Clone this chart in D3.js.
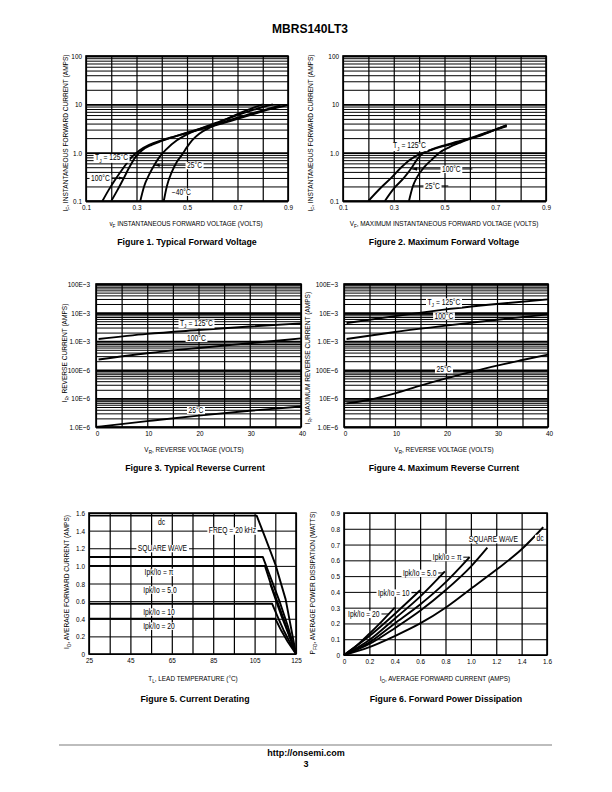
<!DOCTYPE html>
<html>
<head>
<meta charset="utf-8">
<script src="https://cdn.jsdelivr.net/npm/d3@7/dist/d3.min.js"></script>
<style>html,body{margin:0;padding:0;background:#fff}svg{display:block}</style>
</head>
<body>
<svg id="page" width="612" height="792" xmlns="http://www.w3.org/2000/svg"></svg>
<script>
// ================= DATA =================
// Figure 1 – typical forward voltage  [V, A]
const fig1_125C = [[0.165,0.1],[0.19,0.17],[0.22,0.3],[0.25,0.5],[0.28,0.8],[0.31,1.1],[0.35,1.45],[0.4,1.8],[0.45,2.15],[0.5,2.55],[0.55,3.0],[0.6,3.5],[0.65,4.2],[0.7,5.0],[0.75,6.0],[0.8,7.2],[0.85,8.4],[0.9,9.7]];
const fig1_100C = [[0.2,0.1],[0.225,0.17],[0.25,0.3],[0.27,0.48],[0.295,0.8],[0.32,1.1],[0.36,1.45],[0.4,1.75],[0.45,2.15],[0.5,2.6],[0.55,3.1],[0.6,3.7],[0.65,4.4],[0.7,5.3],[0.75,6.3],[0.8,7.5],[0.87,9.5]];
const fig1_25C  = [[0.315,0.1],[0.33,0.2],[0.35,0.35],[0.37,0.55],[0.39,0.8],[0.42,1.2],[0.46,1.8],[0.5,2.4],[0.55,3.1],[0.6,3.9],[0.65,4.8],[0.7,6.0],[0.75,7.3],[0.8,8.8],[0.84,10]];
const fig1_m40C = [[0.408,0.1],[0.42,0.2],[0.44,0.4],[0.46,0.65],[0.48,0.9],[0.5,1.3],[0.52,1.8],[0.55,2.5],[0.6,3.5],[0.65,4.8],[0.7,6.3],[0.75,8.0],[0.8,10]];
// Figure 2 – maximum forward voltage  [V, A]
const fig2_125C = [[0.2,0.1],[0.25,0.19],[0.29,0.3],[0.33,0.5],[0.37,0.75],[0.4,0.92],[0.45,1.15],[0.5,1.38],[0.55,1.62],[0.6,1.95],[0.65,2.4],[0.7,3.0],[0.745,3.7]];
const fig2_100C = [[0.265,0.1],[0.3,0.18],[0.34,0.3],[0.37,0.48],[0.39,0.7],[0.41,0.92],[0.45,1.17],[0.5,1.42],[0.55,1.68],[0.6,2.0],[0.65,2.45],[0.7,3.0],[0.745,3.65]];
const fig2_25C  = [[0.36,0.1],[0.375,0.2],[0.39,0.3],[0.42,0.5],[0.45,0.72],[0.48,1.0],[0.52,1.3],[0.56,1.6],[0.6,1.92],[0.65,2.35],[0.7,2.95],[0.745,3.5]];
// Figure 3 – typical reverse current  [V, A]
const fig3_125C = [[0.5,1.2e-3],[10,1.8e-3],[20,2.45e-3],[30,3.25e-3],[40,4.2e-3]];
const fig3_100C = [[0.5,2.3e-4],[10,3.8e-4],[20,5.8e-4],[30,8.5e-4],[40,1.25e-3]];
const fig3_25C  = [[0,1.0e-6],[10,1.6e-6],[20,2.5e-6],[30,3.7e-6],[40,5.2e-6]];
// Figure 4 – maximum reverse current  [V, A]
const fig4_125C = [[0.5,4.3e-3],[10,7.5e-3],[20,1.3e-2],[30,2.0e-2],[40,2.9e-2]];
const fig4_100C = [[0.5,1.2e-3],[10,2.1e-3],[20,3.5e-3],[30,5.6e-3],[40,8.7e-3]];
const fig4_25C  = [[0.5,6.7e-6],[5,9e-6],[10,1.5e-5],[15,2.8e-5],[20,5e-5],[25,8.5e-5],[30,1.4e-4],[35,2.2e-4],[40,3.4e-4]];
// Figure 5 – current derating  [°C, A]
const fig5_dc     = [[25,1.57],[106,1.57],[110,1.33],[115,1.02],[120,0.62],[125,0]];
const fig5_square = [[25,1.1],[109,1.1],[113,0.85],[117,0.6],[121,0.32],[125,0]];
const fig5_pi     = [[25,1.0],[110,1.0],[113,0.78],[116.5,0.56],[120.5,0.3],[125,0]];
const fig5_5      = [[112.5,0.8],[115,0.63],[118,0.43],[121.5,0.22],[125,0]];
const fig5_10     = [[25,0.57],[113.5,0.57],[116,0.43],[119,0.27],[125,0]];
const fig5_20     = [[25,0.4],[115,0.4],[118,0.26],[121,0.14],[125,0]];
// Figure 6 – forward power dissipation  [A, W]
const fig6_dc     = [[0,0],[0.2,0.05],[0.4,0.12],[0.6,0.2],[0.8,0.3],[1.0,0.42],[1.2,0.54],[1.4,0.67],[1.57,0.81]];
const fig6_square = [[0,0],[0.2,0.07],[0.4,0.17],[0.6,0.28],[0.8,0.41],[1.0,0.56],[1.13,0.68]];
const fig6_pi     = [[0,0],[0.2,0.08],[0.4,0.2],[0.6,0.32],[0.8,0.46],[0.99,0.62]];
const fig6_5      = [[0,0],[0.2,0.095],[0.4,0.23],[0.6,0.37],[0.795,0.53]];
const fig6_10     = [[0,0],[0.2,0.12],[0.4,0.26],[0.6,0.41]];
const fig6_20     = [[0,0],[0.1,0.06],[0.2,0.135],[0.3,0.215],[0.4,0.3]];

// Tick values / labels
const vfXTicks = [0.1,0.3,0.5,0.7,0.9];
const vfXLabels = ["0.1","0.3","0.5","0.7","0.9"];
const vfXGrid = [0.1,0.2,0.3,0.4,0.5,0.6,0.7,0.8,0.9];
const ifYTicks = [0.1,1,10,100];
const ifYLabels = ["0.1","1.0","10","100"];
const vrXTicks = [0,10,20,30,40];
const vrXLabels = ["0","10","20","30","40"];
const vrXGrid = [0,5,10,15,20,25,30,35,40];
const irYTicks = [1e-6,1e-5,1e-4,1e-3,1e-2,1e-1];
const irYLabels = ["1.0E\u22126","10E\u22126","100E\u22126","1.0E\u22123","10E\u22123","100E\u22123"];
const tlXTicks = [25,45,65,85,105,125];
const tlXLabels = ["25","45","65","85","105","125"];
const tlXGrid = [25,35,45,55,65,75,85,95,105,115,125];
const ioYTicks = [0,0.2,0.4,0.6,0.8,1.0,1.2,1.4,1.6];
const ioYLabels = ["0","0.2","0.4","0.6","0.8","1.0","1.2","1.4","1.6"];
const ioXTicks = [0,0.2,0.4,0.6,0.8,1.0,1.2,1.4,1.6];
const ioXLabels = ["0","0.2","0.4","0.6","0.8","1.0","1.2","1.4","1.6"];
const pfYTicks = [0,0.1,0.2,0.3,0.4,0.5,0.6,0.7,0.8,0.9];
const pfYLabels = ["0","0.1","0.2","0.3","0.4","0.5","0.6","0.7","0.8","0.9"];

// ================= DRAW =================
const svg = d3.select('#page');
svg.append('rect').attr('width',612).attr('height',792).attr('fill','#fff');
const BFONT = "'Liberation Sans',Arial,Helvetica,sans-serif";
let narrowOK = false;
(function(){
  const a = svg.append('text').attr('font-family',"'Liberation Sans Narrow',monospace").attr('font-size',40).text('INSTANTANEOUS FORWARD');
  const b = svg.append('text').attr('font-family',"'Liberation Sans',monospace").attr('font-size',40).text('INSTANTANEOUS FORWARD');
  narrowOK = a.node().getComputedTextLength() < 0.9*b.node().getComputedTextLength();
  a.remove(); b.remove();
})();
const NFONT = narrowOK ? "'Liberation Sans Narrow','Arial Narrow',sans-serif" : BFONT;
function cond(t){
  if(!narrowOK){ const w=t.node().getComputedTextLength(); if(w>0) t.attr('textLength',w*0.82).attr('lengthAdjust','spacingAndGlyphs'); }
}
const TICK = 7.8, AXL = 7.8, ANN = 8.2, CAP = 8.8;

const defs = svg.append('defs');
defs.append('marker').attr('id','arr').attr('viewBox','0 0 6 4').attr('refX',6).attr('refY',2)
  .attr('markerWidth',5).attr('markerHeight',3.4).attr('markerUnits','userSpaceOnUse').attr('orient','auto-start-reverse')
  .append('path').attr('d','M0,0L6,2L0,4Z').attr('fill','#000');

function addText(parent,o){
  const size=o.size||AXL, narrow=o.narrow!==false;
  const t=parent.append('text').attr('font-family',narrow?NFONT:BFONT).attr('font-size',size)
    .attr('text-anchor',o.anchor||'middle').attr('fill','#000');
  if(o.bold) t.attr('font-weight','bold');
  if(o.rotate!=null) t.attr('transform',`translate(${o.x},${o.y}) rotate(${o.rotate})`).attr('x',0).attr('y',0);
  else t.attr('x',o.x).attr('y',o.y);
  t.attr('dy','0.35em');
  let shifted=false;
  const parts=Array.isArray(o.parts)?o.parts:[o.parts];
  parts.forEach(p=>{
    if(typeof p==='string'){ const s=t.append('tspan').text(p); if(shifted){ s.attr('dy',-size*0.3); shifted=false; } }
    else { t.append('tspan').attr('font-size',size*0.72).attr('dy',size*0.3).text(p.sub); shifted=true; }
  });
  if(narrow) cond(t);
  return t;
}

function isDecade(d){ const l=Math.log10(d); return Math.abs(l-Math.round(l))<1e-6; }

function chart(c){
  const g=svg.append('g');
  const x=d3.scaleLinear().domain(c.xDomain).range([c.left,c.right]);
  const y=(c.yLog?d3.scaleLog():d3.scaleLinear()).domain(c.yDomain).range([c.bottom,c.top]);
  const W=c.right-c.left, H=c.bottom-c.top;
  // grid
  const gx=g.append('g').attr('transform',`translate(0,${c.bottom})`)
    .call(d3.axisBottom(x).tickValues(c.xGrid).tickSize(-H).tickSizeOuter(0).tickFormat(''));
  gx.select('.domain').remove();
  gx.selectAll('.tick line').attr('stroke','#000').attr('stroke-width',1.2);
  const yGrid=c.yLog?y.ticks():c.yGrid;
  const gy=g.append('g').attr('transform',`translate(${c.left},0)`)
    .call(d3.axisLeft(y).tickValues(yGrid).tickSize(-W).tickSizeOuter(0).tickFormat(''));
  gy.select('.domain').remove();
  gy.selectAll('.tick line').attr('stroke','#000').attr('stroke-width',d=>(c.yLog&&isDecade(d))?1.8:1.0);
  // frame
  g.append('rect').attr('x',c.left).attr('y',c.top).attr('width',W).attr('height',H)
    .attr('fill','none').attr('stroke','#000').attr('stroke-width',1.6);
  // tick labels
  const tx=g.append('g').attr('transform',`translate(${c.xShift||0},${c.bottom})`)
    .call(d3.axisBottom(x).tickValues(c.xTicks).tickSize(0).tickPadding(3).tickFormat((d,i)=>c.xLabels[i]));
  tx.select('.domain').remove();
  tx.attr('font-family',NFONT).attr('font-size',TICK);
  tx.selectAll('text').attr('fill','#000').each(function(){ cond(d3.select(this)); });
  const ty=g.append('g').attr('transform',`translate(${c.left},0)`)
    .call(d3.axisLeft(y).tickValues(c.yTicks).tickSize(0).tickPadding(c.yPad||4).tickFormat((d,i)=>c.yLabels[i]));
  ty.select('.domain').remove();
  ty.attr('font-family',NFONT).attr('font-size',TICK);
  ty.selectAll('text').attr('fill','#000').each(function(){ cond(d3.select(this)); });
  // series
  const line=d3.line().x(d=>x(d[0])).y(d=>y(d[1])).curve(c.curve||d3.curveMonotoneX);
  c.series.forEach(s=>{
    g.append('path').attr('d',line(s)).attr('fill','none').attr('stroke','#000').attr('stroke-width',1.9).attr('stroke-linejoin','round');
  });
  // annotations
  (c.ann||[]).forEach(a=>{
    const grp=g.append('g');
    const lines=grp.append('g');
    const bg=grp.append('rect').attr('fill','#fff');
    const t=addText(grp,{x:x(a.x),y:y(a.y),parts:a.parts,anchor:a.anchor||'middle',size:ANN});
    const bb=t.node().getBBox();
    if(a.bg!==false) bg.attr('x',bb.x-1.5).attr('y',bb.y+0.8).attr('width',bb.width+3).attr('height',Math.max(0,bb.height-1.6));
    else bg.remove();
    if(a.to){
      const x2=x(a.to[0]), y2=y(a.to[1]);
      let x1,y1;
      if(a.from){ x1=x(a.from[0]); y1=y(a.from[1]); }
      else { x1 = x2 > bb.x+bb.width/2 ? bb.x+bb.width+0.5 : bb.x-0.5; y1=y(a.y); }
      const ln=lines.append('line').attr('x1',x1).attr('y1',y1).attr('x2',x2).attr('y2',y2)
        .attr('stroke','#000').attr('stroke-width',1.0);
      if(a.arrow) ln.attr('marker-end','url(#arr)');
    }
  });
  // axis labels & caption
  addText(g,{x:c.yLab[0],y:c.yLab[1],parts:c.yTitle,rotate:-90,size:8});
  addText(g,{x:c.xLab[0],y:c.xLab[1],parts:c.xTitle,size:AXL});
  addText(g,{x:c.cap[0],y:c.cap[1],parts:c.caption,size:CAP,bold:true,narrow:false});
}

const TJ125 = ['T',{sub:'J'},' = 125\u00B0C'];

chart({left:86,right:288,top:56,bottom:201,xDomain:[0.1,0.9],yLog:true,yDomain:[0.1,100],
  xGrid:vfXGrid,xTicks:vfXTicks,xLabels:vfXLabels,yTicks:ifYTicks,yLabels:ifYLabels,
  series:[fig1_125C,fig1_100C,fig1_25C,fig1_m40C],
  ann:[
    {parts:TJ125,x:0.136,y:0.8,anchor:'start',to:[0.28,0.8]},
    {parts:['100\u00B0C'],x:0.12,y:0.3,anchor:'start',to:[0.249,0.3],arrow:true},
    {parts:['25\u00B0C'],x:0.5,y:0.55,anchor:'start',to:[0.372,0.55],arrow:true},
    {parts:['\u221240\u00B0C'],x:0.44,y:0.155,anchor:'start'}
  ],
  yTitle:['I',{sub:'F'},', INSTANTANEOUS FORWARD CURRENT (AMPS)'],yLab:[65,133],
  xTitle:['v',{sub:'F'},' INSTANTANEOUS FORWARD VOLTAGE (VOLTS)'],xLab:[186,223],
  caption:'Figure 1. Typical Forward Voltage',cap:[187,242]});

chart({left:343,right:546,top:56,bottom:201,xDomain:[0.1,0.9],yLog:true,yDomain:[0.1,100],
  xGrid:vfXGrid,xTicks:vfXTicks,xLabels:vfXLabels,yTicks:ifYTicks,yLabels:ifYLabels,
  series:[fig2_125C,fig2_100C,fig2_25C],
  ann:[
    {parts:TJ125,x:0.297,y:1.4,anchor:'start'},
    {parts:['100\u00B0C'],x:0.49,y:0.46,anchor:'start',from:[0.61,0.46],to:[0.372,0.46],arrow:true},
    {parts:['25\u00B0C'],x:0.423,y:0.205,anchor:'start',from:[0.515,0.205],to:[0.378,0.205]}
  ],
  yTitle:['I',{sub:'F'},', INSTANTANEOUS FORWARD CURRENT (AMPS)'],yLab:[310,133],
  xTitle:['V',{sub:'F'},', MAXIMUM INSTANTANEOUS FORWARD VOLTAGE (VOLTS)'],xLab:[444,223],
  caption:'Figure 2. Maximum Forward Voltage',cap:[444,242]});

chart({left:96,right:301,top:284,bottom:427,xDomain:[0,40],yLog:true,yDomain:[1e-6,1e-1],
  xGrid:vrXGrid,xTicks:vrXTicks,xLabels:vrXLabels,yTicks:irYTicks,yLabels:irYLabels,yPad:6,xShift:1,
  series:[fig3_125C,fig3_100C,fig3_25C],
  ann:[
    {parts:TJ125,x:19.6,y:4.4e-3},
    {parts:['100\u00B0C'],x:19.6,y:1.3e-3},
    {parts:['25\u00B0C'],x:19.5,y:3.9e-6}
  ],
  yTitle:['I',{sub:'R'},', REVERSE CURRENT (AMPS)'],yLab:[64,353],
  xTitle:['V',{sub:'R'},', REVERSE VOLTAGE (VOLTS)'],xLab:[194,449],
  caption:'Figure 3. Typical Reverse Current',cap:[195,468]});

chart({left:344,right:548,top:284,bottom:427,xDomain:[0,40],yLog:true,yDomain:[1e-6,1e-1],
  xGrid:vrXGrid,xTicks:vrXTicks,xLabels:vrXLabels,yTicks:irYTicks,yLabels:irYLabels,yPad:6,xShift:1,
  series:[fig4_125C,fig4_100C,fig4_25C],
  ann:[
    {parts:TJ125,x:19.6,y:2.4e-2},
    {parts:['100\u00B0C'],x:19.6,y:7.8e-3},
    {parts:['25\u00B0C'],x:19.6,y:1.05e-4}
  ],
  yTitle:['I',{sub:'R'},', MAXIMUM REVERSE CURRENT (AMPS)'],yLab:[307,358],
  xTitle:['V',{sub:'R'},', REVERSE VOLTAGE (VOLTS)'],xLab:[444,449],
  caption:'Figure 4. Maximum Reverse Current',cap:[444,468]});

chart({left:89,right:296,top:513,bottom:654,xDomain:[25,125],yDomain:[0,1.6],
  xGrid:tlXGrid,yGrid:ioYTicks,xTicks:tlXTicks,xLabels:tlXLabels,yTicks:ioYTicks,yLabels:ioYLabels,
  series:[fig5_dc,fig5_square,fig5_pi,fig5_5,fig5_10,fig5_20],curve:d3.curveLinear,
  ann:[
    {parts:['dc'],x:60,y:1.5},
    {parts:['FREQ = 20 kHz'],x:94.3,y:1.4,to:[108.9,1.4]},
    {parts:['SQUARE WAVE'],x:60.5,y:1.2},
    {parts:['Ipk/Io = \u03C0'],x:58.8,y:0.93},
    {parts:['Ipk/Io = 5.0'],x:59.3,y:0.73},
    {parts:['Ipk/Io = 10'],x:58.8,y:0.48},
    {parts:['Ipk/Io = 20'],x:58.8,y:0.32}
  ],
  yTitle:['I',{sub:'O'},', AVERAGE FORWARD CURRENT (AMPS)'],yLab:[66,582],
  xTitle:['T',{sub:'L'},', LEAD TEMPERATURE (\u00B0C)'],xLab:[193,678],
  caption:'Figure 5. Current Derating',cap:[195,699]});

chart({left:344,right:547,top:513,bottom:655,xDomain:[0,1.6],yDomain:[0,0.9],
  xGrid:ioXTicks,yGrid:pfYTicks,xTicks:ioXTicks,xLabels:ioXLabels,yTicks:pfYTicks,yLabels:pfYLabels,
  series:[fig6_dc,fig6_square,fig6_pi,fig6_5,fig6_10,fig6_20],
  ann:[
    {parts:['SQUARE WAVE'],x:1.178,y:0.733},
    {parts:['dc'],x:1.545,y:0.741},
    {parts:['Ipk/Io = \u03C0'],x:0.70,y:0.62,anchor:'start',to:[0.99,0.62]},
    {parts:['Ipk/Io = 5.0'],x:0.465,y:0.52,anchor:'start',to:[0.785,0.52]},
    {parts:['Ipk/Io = 10'],x:0.268,y:0.395,anchor:'start',to:[0.585,0.395]},
    {parts:['Ipk/Io = 20'],x:0.032,y:0.26,anchor:'start',to:[0.355,0.26]}
  ],
  yTitle:['P',{sub:'FO'},', AVERAGE POWER DISSIPATION (WATTS)'],yLab:[312,583],
  xTitle:['I',{sub:'O'},', AVERAGE FORWARD CURRENT (AMPS)'],xLab:[445,678],
  caption:'Figure 6. Forward Power Dissipation',cap:[446,699]});

// header & footer
addText(svg,{x:310,y:29,parts:'MBRS140LT3',size:12,bold:true,narrow:false});
svg.append('line').attr('x1',59).attr('x2',552).attr('y1',745).attr('y2',745).attr('stroke','#bdbdbd').attr('stroke-width',2);
addText(svg,{x:306,y:753,parts:'http://onsemi.com',size:9,bold:true,narrow:false});
addText(svg,{x:306,y:764,parts:'3',size:9,bold:true,narrow:false});
</script>
</body>
</html>
